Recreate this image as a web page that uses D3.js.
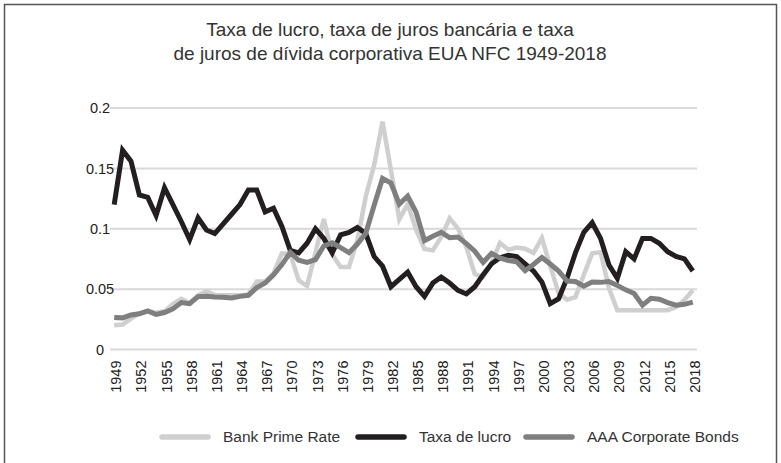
<!DOCTYPE html>
<html>
<head>
<meta charset="utf-8">
<script src="https://cdn.jsdelivr.net/npm/d3@7"></script>
<style>
  html, body { margin: 0; padding: 0; background: #fff; }
  svg { display: block; }
  text { font-family: "Liberation Sans", Arial, sans-serif; fill: #222; }
</style>
</head>
<body>
<svg id="chart" width="781" height="463"></svg>
<script>
// ---------- data ----------
const years = d3.range(1949, 2019);
const tickYears = [1949, 1952, 1955, 1958, 1961, 1964, 1967, 1970, 1973, 1976, 1979, 1982,
  1985, 1988, 1991, 1994, 1997, 2000, 2003, 2006, 2009, 2012, 2015, 2018];
const yTicks = [0, 0.05, 0.1, 0.15, 0.2];
const yTickLabels = ["0", "0.05", "0.1", "0.15", "0.2"];

const bankPrimeRate = [
  0.0200, 0.0207, 0.0256, 0.0300, 0.0317, 0.0305, 0.0316, 0.0377, 0.0420, 0.0383,
  0.0448, 0.0482, 0.0450, 0.0450, 0.0450, 0.0450, 0.0454, 0.0563, 0.0563, 0.0631,
  0.0796, 0.0791, 0.0572, 0.0525, 0.0803, 0.1081, 0.0786, 0.0684, 0.0683, 0.0906,
  0.1267, 0.1527, 0.1887, 0.1486, 0.1079, 0.1204, 0.0993, 0.0833, 0.0821, 0.0932,
  0.1087, 0.1001, 0.0846, 0.0625, 0.0600, 0.0715, 0.0883, 0.0827, 0.0844, 0.0835,
  0.0800, 0.0923, 0.0691, 0.0467, 0.0412, 0.0434, 0.0619, 0.0796, 0.0805, 0.0509,
  0.0325, 0.0325, 0.0325, 0.0325, 0.0325, 0.0325, 0.0326, 0.0351, 0.0410, 0.0490
];
const taxaDeLucro = [
  0.120, 0.165, 0.156, 0.128, 0.126, 0.111, 0.134, 0.120, 0.106, 0.091,
  0.109, 0.099, 0.096, 0.104, 0.112, 0.120, 0.132, 0.132, 0.114, 0.117,
  0.102, 0.082, 0.080, 0.088, 0.100, 0.092, 0.080, 0.095, 0.097, 0.101,
  0.096, 0.077, 0.069, 0.052, 0.058, 0.064, 0.052, 0.044, 0.055, 0.060,
  0.055, 0.049, 0.046, 0.052, 0.062, 0.071, 0.076, 0.078, 0.077, 0.071,
  0.065, 0.056, 0.038, 0.042, 0.059, 0.080, 0.097, 0.105, 0.092, 0.070,
  0.059, 0.081, 0.075, 0.092, 0.092, 0.088, 0.081, 0.077, 0.075, 0.065
];
const aaaCorporateBonds = [
  0.0266, 0.0262, 0.0286, 0.0296, 0.0320, 0.0290, 0.0306, 0.0336, 0.0389, 0.0379,
  0.0438, 0.0441, 0.0435, 0.0433, 0.0426, 0.0440, 0.0449, 0.0513, 0.0551, 0.0618,
  0.0703, 0.0804, 0.0739, 0.0721, 0.0744, 0.0857, 0.0883, 0.0843, 0.0802, 0.0873,
  0.0963, 0.1194, 0.1417, 0.1379, 0.1204, 0.1271, 0.1137, 0.0902, 0.0938, 0.0971,
  0.0926, 0.0932, 0.0877, 0.0814, 0.0722, 0.0796, 0.0759, 0.0737, 0.0726, 0.0653,
  0.0704, 0.0762, 0.0708, 0.0649, 0.0567, 0.0563, 0.0524, 0.0559, 0.0556, 0.0563,
  0.0531, 0.0494, 0.0464, 0.0367, 0.0424, 0.0416, 0.0389, 0.0367, 0.0374, 0.0393
];

const title = ["Taxa de lucro, taxa de juros bancária e taxa",
               "de juros de dívida corporativa EUA NFC 1949-2018"];

const series = [
  { name: "Bank Prime Rate", values: bankPrimeRate, color: "#cfcfcf", width: 4.5 },
  { name: "Taxa de lucro", values: taxaDeLucro, color: "#231f20", width: 5 },
  { name: "AAA Corporate Bonds", values: aaaCorporateBonds, color: "#7f7f7f", width: 5 }
];

// ---------- layout ----------
const svg = d3.select("#chart");
const plot = { left: 110, right: 697, top: 108, bottom: 349.5 };

svg.append("rect")
  .attr("x", 4.5).attr("y", 4.5).attr("width", 772).attr("height", 470)
  .attr("fill", "none").attr("stroke", "#555").attr("stroke-width", 1.5);

const x = d3.scaleBand().domain(years).range([plot.left, plot.right]).padding(0);
const xc = d => x(d) + x.bandwidth() / 2;
const y = d3.scaleLinear().domain([0, 0.2]).range([plot.bottom, plot.top]);

// title
svg.append("g").selectAll("text").data(title).join("text")
  .attr("x", 390).attr("y", (d, i) => 36 + i * 23.5)
  .attr("text-anchor", "middle")
  .style("font-size", "19px")
  .style("fill", "#333")
  .text(d => d);

// gridlines
svg.append("g").selectAll("line").data(yTicks).join("line")
  .attr("x1", plot.left).attr("x2", plot.right)
  .attr("y1", d => y(d)).attr("y2", d => y(d))
  .attr("stroke", "#d9d9d9").attr("stroke-width", 2);

// y axis labels
const yAxis = d3.axisLeft(y).tickValues(yTicks)
  .tickFormat((d, i) => yTickLabels[i]).tickSize(0);
const gy = svg.append("g").attr("transform", "translate(100,0)").call(yAxis);
gy.select(".domain").remove();
gy.selectAll("text").attr("x", 0).attr("text-anchor", "middle")
  .style("font-size", "14.5px").style("font-family", "\"Liberation Sans\", Arial, sans-serif")
  .attr("fill", "#333");

// x axis labels
const xAxis = d3.axisBottom(x).tickValues(tickYears).tickSize(0);
const gx = svg.append("g").attr("transform", `translate(0,${plot.bottom})`).call(xAxis);
gx.select(".domain").remove();
gx.selectAll("text")
  .attr("transform", "rotate(-90)")
  .attr("x", -11).attr("y", 2).attr("dy", "0.35em")
  .attr("text-anchor", "end")
  .style("font-size", "14.5px").style("font-family", "\"Liberation Sans\", Arial, sans-serif")
  .attr("fill", "#333");

// lines
const line = d3.line().x((d, i) => xc(years[i])).y(d => y(d));
svg.append("g").selectAll("path").data(series).join("path")
  .attr("d", s => line(s.values))
  .attr("fill", "none")
  .attr("stroke", s => s.color)
  .attr("stroke-width", s => s.width)
  .attr("stroke-linejoin", "miter")
  .attr("stroke-miterlimit", 4);

// legend
const legendItems = [
  { s: series[0], x: 162 },
  { s: series[1], x: 358 },
  { s: series[2], x: 526 }
];
const lg = svg.append("g").selectAll("g").data(legendItems).join("g")
  .attr("transform", d => `translate(${d.x},437)`);
lg.append("line")
  .attr("x1", 0).attr("x2", 46).attr("y1", 0).attr("y2", 0)
  .attr("stroke", d => d.s.color).attr("stroke-width", 5.5)
  .attr("stroke-linecap", "round");
lg.append("text")
  .attr("x", 61).attr("y", 0).attr("dy", "0.35em")
  .style("font-size", "15.5px")
  .style("fill", "#333")
  .text(d => d.s.name);
</script>
</body>
</html>
